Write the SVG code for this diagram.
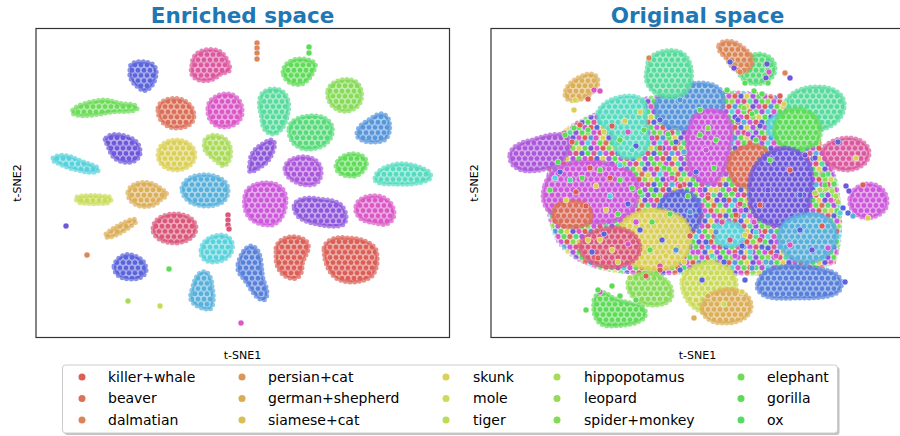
<svg xmlns="http://www.w3.org/2000/svg" width="900" height="436" viewBox="0 0 900 436">
<style>
text{font-family:"DejaVu Sans","Liberation Sans",sans-serif}
.ttl{font-size:21.5px;font-weight:bold;fill:#1f77b4;text-anchor:middle}
.ax{font-size:11px;fill:#000;text-anchor:middle}
.lg{font-size:14px;fill:#000}
.frame{fill:none;stroke:#333;stroke-width:1.2}
.pat rect{fill:currentColor;fill-opacity:.7}
.pat circle{fill:currentColor;stroke:#fff;stroke-width:.6;stroke-opacity:.75}
.blob{stroke-width:5;stroke-dasharray:0 4.6;stroke-linecap:round;stroke-linejoin:round;stroke-opacity:.7}
.dot{r:3px;stroke:#fff;stroke-width:.6;stroke-opacity:.8}
.lm{r:3.5px}
.mixb{fill:url(#mix);stroke:url(#mix)}
.br{fill:url(#pr);stroke:#db5f57}.cr{fill:#db5f57}
.bo{fill:url(#po);stroke:#db6e57}.co{fill:#db6e57}
.ba{fill:url(#pa);stroke:#db8657}.ca{fill:#db8657}
.bz{fill:url(#pz);stroke:#dbae57}.cz{fill:#dbae57}
.by{fill:url(#py);stroke:#dbd057}.cy{fill:#dbd057}
.bm{fill:url(#pm);stroke:#c9db57}.cm{fill:#c9db57}
.bl{fill:url(#pl);stroke:#a9db57}.cl{fill:#a9db57}
.be{fill:url(#pe);stroke:#86db57}.ce{fill:#86db57}
.bf{fill:url(#pf);stroke:#6cdb57}.cf{fill:#6cdb57}
.bg{fill:url(#pg);stroke:#5edb57}.cg{fill:#5edb57}
.bn{fill:url(#pn);stroke:#57db7a}.cn{fill:#57db7a}
.bt{fill:url(#pt);stroke:#57db9c}.ct{fill:#57db9c}
.bq{fill:url(#pq);stroke:#57dbc0}.cq{fill:#57dbc0}
.bc{fill:url(#pc);stroke:#57d2db}.cc{fill:#57d2db}
.bs{fill:url(#ps);stroke:#57b0db}.cs{fill:#57b0db}
.bb{fill:url(#pb);stroke:#5796db}.cb{fill:#5796db}
.bx{fill:url(#px);stroke:#5780db}.cx{fill:#5780db}
.bu{fill:url(#pu);stroke:#5a64db}.cu{fill:#5a64db}
.bv{fill:url(#pv);stroke:#6e57db}.cv{fill:#6e57db}
.bp{fill:url(#pp);stroke:#8e57db}.cp{fill:#8e57db}
.bw{fill:url(#pw);stroke:#ac57db}.cw{fill:#ac57db}
.bk{fill:url(#pk);stroke:#cd57db}.ck{fill:#cd57db}
.bh{fill:url(#ph);stroke:#db57c6}.ch{fill:#db57c6}
.bi{fill:url(#pi);stroke:#db579e}.ci{fill:#db579e}
.bj{fill:url(#pj);stroke:#db577a}.cj{fill:#db577a}
</style>
<defs>
<pattern id="pr" class="pat" color="#db5f57" width="6" height="10.4" patternUnits="userSpaceOnUse"><rect width="6" height="10.4"/><circle cx="3" cy="2.6" r="2.9"/><circle cy="7.8" r="2.9"/><circle cx="6" cy="7.8" r="2.9"/></pattern>
<pattern id="po" class="pat" color="#db6e57" width="6" height="10.4" patternUnits="userSpaceOnUse"><rect width="6" height="10.4"/><circle cx="3" cy="2.6" r="2.9"/><circle cy="7.8" r="2.9"/><circle cx="6" cy="7.8" r="2.9"/></pattern>
<pattern id="pa" class="pat" color="#db8657" width="6" height="10.4" patternUnits="userSpaceOnUse"><rect width="6" height="10.4"/><circle cx="3" cy="2.6" r="2.9"/><circle cy="7.8" r="2.9"/><circle cx="6" cy="7.8" r="2.9"/></pattern>
<pattern id="pz" class="pat" color="#dbae57" width="6" height="10.4" patternUnits="userSpaceOnUse"><rect width="6" height="10.4"/><circle cx="3" cy="2.6" r="2.9"/><circle cy="7.8" r="2.9"/><circle cx="6" cy="7.8" r="2.9"/></pattern>
<pattern id="py" class="pat" color="#dbd057" width="6" height="10.4" patternUnits="userSpaceOnUse"><rect width="6" height="10.4"/><circle cx="3" cy="2.6" r="2.9"/><circle cy="7.8" r="2.9"/><circle cx="6" cy="7.8" r="2.9"/></pattern>
<pattern id="pm" class="pat" color="#c9db57" width="6" height="10.4" patternUnits="userSpaceOnUse"><rect width="6" height="10.4"/><circle cx="3" cy="2.6" r="2.9"/><circle cy="7.8" r="2.9"/><circle cx="6" cy="7.8" r="2.9"/></pattern>
<pattern id="pl" class="pat" color="#a9db57" width="6" height="10.4" patternUnits="userSpaceOnUse"><rect width="6" height="10.4"/><circle cx="3" cy="2.6" r="2.9"/><circle cy="7.8" r="2.9"/><circle cx="6" cy="7.8" r="2.9"/></pattern>
<pattern id="pe" class="pat" color="#86db57" width="6" height="10.4" patternUnits="userSpaceOnUse"><rect width="6" height="10.4"/><circle cx="3" cy="2.6" r="2.9"/><circle cy="7.8" r="2.9"/><circle cx="6" cy="7.8" r="2.9"/></pattern>
<pattern id="pf" class="pat" color="#6cdb57" width="6" height="10.4" patternUnits="userSpaceOnUse"><rect width="6" height="10.4"/><circle cx="3" cy="2.6" r="2.9"/><circle cy="7.8" r="2.9"/><circle cx="6" cy="7.8" r="2.9"/></pattern>
<pattern id="pg" class="pat" color="#5edb57" width="6" height="10.4" patternUnits="userSpaceOnUse"><rect width="6" height="10.4"/><circle cx="3" cy="2.6" r="2.9"/><circle cy="7.8" r="2.9"/><circle cx="6" cy="7.8" r="2.9"/></pattern>
<pattern id="pn" class="pat" color="#57db7a" width="6" height="10.4" patternUnits="userSpaceOnUse"><rect width="6" height="10.4"/><circle cx="3" cy="2.6" r="2.9"/><circle cy="7.8" r="2.9"/><circle cx="6" cy="7.8" r="2.9"/></pattern>
<pattern id="pt" class="pat" color="#57db9c" width="6" height="10.4" patternUnits="userSpaceOnUse"><rect width="6" height="10.4"/><circle cx="3" cy="2.6" r="2.9"/><circle cy="7.8" r="2.9"/><circle cx="6" cy="7.8" r="2.9"/></pattern>
<pattern id="pq" class="pat" color="#57dbc0" width="6" height="10.4" patternUnits="userSpaceOnUse"><rect width="6" height="10.4"/><circle cx="3" cy="2.6" r="2.9"/><circle cy="7.8" r="2.9"/><circle cx="6" cy="7.8" r="2.9"/></pattern>
<pattern id="pc" class="pat" color="#57d2db" width="6" height="10.4" patternUnits="userSpaceOnUse"><rect width="6" height="10.4"/><circle cx="3" cy="2.6" r="2.9"/><circle cy="7.8" r="2.9"/><circle cx="6" cy="7.8" r="2.9"/></pattern>
<pattern id="ps" class="pat" color="#57b0db" width="6" height="10.4" patternUnits="userSpaceOnUse"><rect width="6" height="10.4"/><circle cx="3" cy="2.6" r="2.9"/><circle cy="7.8" r="2.9"/><circle cx="6" cy="7.8" r="2.9"/></pattern>
<pattern id="pb" class="pat" color="#5796db" width="6" height="10.4" patternUnits="userSpaceOnUse"><rect width="6" height="10.4"/><circle cx="3" cy="2.6" r="2.9"/><circle cy="7.8" r="2.9"/><circle cx="6" cy="7.8" r="2.9"/></pattern>
<pattern id="px" class="pat" color="#5780db" width="6" height="10.4" patternUnits="userSpaceOnUse"><rect width="6" height="10.4"/><circle cx="3" cy="2.6" r="2.9"/><circle cy="7.8" r="2.9"/><circle cx="6" cy="7.8" r="2.9"/></pattern>
<pattern id="pu" class="pat" color="#5a64db" width="6" height="10.4" patternUnits="userSpaceOnUse"><rect width="6" height="10.4"/><circle cx="3" cy="2.6" r="2.9"/><circle cy="7.8" r="2.9"/><circle cx="6" cy="7.8" r="2.9"/></pattern>
<pattern id="pv" class="pat" color="#6e57db" width="6" height="10.4" patternUnits="userSpaceOnUse"><rect width="6" height="10.4"/><circle cx="3" cy="2.6" r="2.9"/><circle cy="7.8" r="2.9"/><circle cx="6" cy="7.8" r="2.9"/></pattern>
<pattern id="pp" class="pat" color="#8e57db" width="6" height="10.4" patternUnits="userSpaceOnUse"><rect width="6" height="10.4"/><circle cx="3" cy="2.6" r="2.9"/><circle cy="7.8" r="2.9"/><circle cx="6" cy="7.8" r="2.9"/></pattern>
<pattern id="pw" class="pat" color="#ac57db" width="6" height="10.4" patternUnits="userSpaceOnUse"><rect width="6" height="10.4"/><circle cx="3" cy="2.6" r="2.9"/><circle cy="7.8" r="2.9"/><circle cx="6" cy="7.8" r="2.9"/></pattern>
<pattern id="pk" class="pat" color="#cd57db" width="6" height="10.4" patternUnits="userSpaceOnUse"><rect width="6" height="10.4"/><circle cx="3" cy="2.6" r="2.9"/><circle cy="7.8" r="2.9"/><circle cx="6" cy="7.8" r="2.9"/></pattern>
<pattern id="ph" class="pat" color="#db57c6" width="6" height="10.4" patternUnits="userSpaceOnUse"><rect width="6" height="10.4"/><circle cx="3" cy="2.6" r="2.9"/><circle cy="7.8" r="2.9"/><circle cx="6" cy="7.8" r="2.9"/></pattern>
<pattern id="pi" class="pat" color="#db579e" width="6" height="10.4" patternUnits="userSpaceOnUse"><rect width="6" height="10.4"/><circle cx="3" cy="2.6" r="2.9"/><circle cy="7.8" r="2.9"/><circle cx="6" cy="7.8" r="2.9"/></pattern>
<pattern id="pj" class="pat" color="#db577a" width="6" height="10.4" patternUnits="userSpaceOnUse"><rect width="6" height="10.4"/><circle cx="3" cy="2.6" r="2.9"/><circle cy="7.8" r="2.9"/><circle cx="6" cy="7.8" r="2.9"/></pattern>
<pattern id="mix" width="36" height="31.2" patternUnits="userSpaceOnUse">
<circle class="dot cg" cx="3" cy="2.6"/><circle class="dot ck" cx="9" cy="2.6"/><circle class="dot cr" cx="15" cy="2.6"/><circle class="dot cu" cx="21" cy="2.6"/><circle class="dot cy" cx="27" cy="2.6"/><circle class="dot cw" cx="33" cy="2.6"/>
<circle class="dot cp" cx="0" cy="7.8"/><circle class="dot cg" cx="6" cy="7.8"/><circle class="dot ce" cx="12" cy="7.8"/><circle class="dot ck" cx="18" cy="7.8"/><circle class="dot cj" cx="24" cy="7.8"/><circle class="dot ct" cx="30" cy="7.8"/><circle class="dot cp" cx="36" cy="7.8"/>
<circle class="dot ch" cx="3" cy="13"/><circle class="dot cr" cx="9" cy="13"/><circle class="dot cb" cx="15" cy="13"/><circle class="dot cg" cx="21" cy="13"/><circle class="dot cy" cx="27" cy="13"/><circle class="dot cv" cx="33" cy="13"/>
<circle class="dot cn" cx="0" cy="18.2"/><circle class="dot cw" cx="6" cy="18.2"/><circle class="dot cc" cx="12" cy="18.2"/><circle class="dot ch" cx="18" cy="18.2"/><circle class="dot cg" cx="24" cy="18.2"/><circle class="dot co" cx="30" cy="18.2"/><circle class="dot cn" cx="36" cy="18.2"/>
<circle class="dot cy" cx="3" cy="23.4"/><circle class="dot cg" cx="9" cy="23.4"/><circle class="dot cv" cx="15" cy="23.4"/><circle class="dot ck" cx="21" cy="23.4"/><circle class="dot cr" cx="27" cy="23.4"/><circle class="dot ce" cx="33" cy="23.4"/>
<circle class="dot cj" cx="0" cy="28.6"/><circle class="dot cu" cx="6" cy="28.6"/><circle class="dot cg" cx="12" cy="28.6"/><circle class="dot ci" cx="18" cy="28.6"/><circle class="dot cs" cx="24" cy="28.6"/><circle class="dot ck" cx="30" cy="28.6"/><circle class="dot cj" cx="36" cy="28.6"/>
</pattern>
</defs>
<rect width="900" height="436" fill="#fff"/>

<g id="titles">
<text class="ttl" x="242.5" y="23">Enriched space</text>
<text class="ttl" x="697.5" y="23">Original space</text>
</g>

<g id="enriched">
<rect class="frame" x="36" y="28.5" width="413.5" height="309"/>
<text class="ax" x="242.5" y="359">t-SNE1</text>
<text class="ax" transform="translate(21,183) rotate(-90)">t-SNE2</text>
<g id="enriched-clusters">
<path class="blob bu" d="M130,70 C128,62 140,60 150,63 C158,66 157,75 154,82 C151,88 146,92 142,90 C136,86 128,80 130,70Z"/>
<path class="blob bi" d="M192,65 C192,52 204,48 216,50 C224,52 228,60 230,68 C231,73 222,72 218,76 C212,82 200,82 195,78 C190,74 191,70 192,65Z"/>
<path class="blob bg" d="M283,72 C284,62 294,58 304,59 C312,60 317,63 315,68 C312,74 310,80 302,84 C294,86 284,82 283,72Z"/>
<path class="blob be" d="M328,90 C330,82 342,78 352,80 C360,82 363,92 361,100 C359,108 350,112 342,111 C332,109 326,100 328,90Z"/>
<path class="blob bf" d="M73,110 C78,104 92,101 104,100 C112,100 118,104 126,104 C134,104 138,106 137,109 C134,112 122,111 112,112 C100,114 86,117 76,115 C72,114 71,112 73,110Z"/>
<path class="blob bo" d="M158,108 C160,100 170,97 180,99 C188,101 194,108 194,116 C194,124 186,128 176,128 C166,128 157,120 158,108Z"/>
<path class="blob bh" d="M208,108 C208,98 220,93 230,94 C238,96 243,104 242,114 C241,122 232,128 222,127 C212,126 207,118 208,108Z"/>
<path class="blob bt" d="M260,98 C262,90 272,87 280,90 C288,94 290,104 288,112 C287,122 282,132 274,134 C266,134 262,128 262,120 C261,112 258,106 260,98Z"/>
<path class="blob bn" d="M289,128 C290,119 304,115 316,116 C328,117 334,124 332,134 C330,144 318,150 306,149 C294,148 288,138 289,128Z"/>
<path class="blob bb" d="M357,133 C358,125 366,122 372,118 C378,113 384,112 388,118 C391,126 390,134 386,139 C380,143 368,143 362,140 C358,138 356,136 357,133Z"/>
<path class="blob bv" d="M106,138 C110,133 120,134 128,137 C136,139 141,146 140,154 C138,162 128,164 120,161 C112,158 110,152 108,146 C106,142 104,140 106,138Z"/>
<path class="blob by" d="M158,155 C158,145 166,140 176,140 C186,140 195,146 195,155 C195,164 186,170 176,170 C166,170 158,164 158,155Z"/>
<path class="blob bl" d="M205,140 C208,134 218,134 224,138 C230,142 232,150 230,158 C228,164 224,168 220,164 C212,158 204,152 204,146Z"/>
<path class="blob bp" d="M250,162 C250,152 258,146 266,142 C272,138 276,140 274,148 C272,156 268,162 262,166 C256,170 250,174 249,170Z"/>
<path class="blob bw" d="M285,168 C286,160 296,156 306,157 C314,158 320,162 321,170 C322,178 318,186 308,185 C298,185 284,178 285,168Z"/>
<path class="blob bg" d="M336,166 C337,158 346,153 356,154 C364,155 368,160 366,166 C364,172 356,178 350,176 C342,176 336,172 336,166Z"/>
<path class="blob bq" d="M375,178 C376,170 388,165 398,164 C408,163 418,166 426,170 C432,173 432,178 428,180 C420,184 404,185 394,184 C384,184 374,184 375,178Z"/>
<path class="blob bc" d="M53,158 C58,154 68,155 74,158 C82,162 92,164 98,168 C100,172 94,173 86,172 C78,170 66,168 60,164 C54,162 52,160 53,158Z"/>
<path class="blob bz" d="M128,192 C130,184 140,181 150,183 C158,185 162,190 166,192 C168,196 164,198 160,200 C158,204 150,208 140,206 C132,204 127,198 128,192Z"/>
<path class="blob bm" d="M77,197 C82,195 100,195 110,197 C112,199 111,202 108,203 C98,204 82,204 78,202 C76,201 76,198 77,197Z"/>
<path class="blob bs" d="M182,188 C184,178 196,174 208,175 C220,176 229,182 228,192 C227,202 218,206 206,206 C194,206 182,200 182,188Z"/>
<path class="blob bk" d="M245,196 C246,186 258,182 270,183 C280,184 286,190 286,200 C286,210 282,222 272,225 C262,226 250,222 246,212 C244,206 244,200 245,196Z"/>
<path class="blob bp" d="M294,206 C296,198 308,197 318,199 C326,200 334,200 340,204 C346,210 348,218 344,224 C338,228 326,226 316,224 C306,222 294,218 294,206Z"/>
<path class="blob bh" d="M356,206 C358,198 368,195 378,196 C388,198 393,204 394,212 C395,220 388,226 380,224 C372,222 364,222 360,218 C356,214 355,210 356,206Z"/>
<path class="blob bz" d="M106,234 C110,230 120,224 130,220 C136,218 138,220 134,224 C126,230 116,236 110,237 C106,238 104,236 106,234Z"/>
<path class="blob bj" d="M153,228 C154,218 166,213 178,214 C188,215 196,220 196,228 C196,236 188,242 176,243 C164,243 152,238 153,228Z"/>
<path class="blob bc" d="M201,250 C202,240 212,235 222,235 C230,236 234,242 232,250 C230,258 222,262 212,262 C204,262 200,256 201,250Z"/>
<path class="blob bu" d="M114,266 C116,258 124,253 132,255 C140,257 146,262 146,270 C146,276 138,280 130,279 C120,279 114,274 114,266Z"/>
<path class="blob bx" d="M238,264 C240,256 244,248 250,246 C256,246 260,252 261,262 C262,270 262,276 264,282 C268,290 268,298 264,300 C258,300 254,294 250,288 C246,280 240,276 238,270Z"/>
<path class="blob br" d="M276,248 C278,240 286,236 296,237 C304,238 310,242 308,250 C306,256 302,260 302,268 C302,276 296,280 290,278 C282,276 276,268 276,258Z"/>
<path class="blob br" d="M324,248 C326,240 336,236 348,238 C360,238 372,242 376,250 C378,258 378,268 372,276 C364,282 350,284 340,280 C330,276 324,264 324,248Z"/>
<path class="blob bs" d="M192,290 C194,282 196,274 202,272 C208,270 212,278 212,286 C214,296 214,306 210,309 C204,310 194,306 191,300 C190,296 191,292 192,290Z"/>
</g>
<g id="enriched-points">
<circle class="dot ca" cx="257" cy="43"/><circle class="dot ca" cx="257" cy="48"/><circle class="dot ca" cx="257" cy="53"/><circle class="dot ca" cx="257" cy="59"/>
<circle class="dot cg" cx="309" cy="47"/><circle class="dot cg" cx="309" cy="53"/>
<circle class="dot cv" cx="66" cy="226"/>
<circle class="dot cj" cx="228" cy="215"/><circle class="dot cj" cx="228" cy="220"/><circle class="dot cj" cx="228" cy="225"/><circle class="dot cj" cx="229" cy="229"/>
<circle class="dot ca" cx="87" cy="255"/>
<circle class="dot cg" cx="169" cy="269"/>
<circle class="dot cl" cx="128" cy="301"/><circle class="dot cm" cx="160" cy="306"/>
<circle class="dot ch" cx="241" cy="323"/>
</g>
</g>

<g id="original">
<rect class="frame" x="491" y="28.5" width="414" height="309"/>
<text class="ax" x="697.5" y="359">t-SNE1</text>
<text class="ax" transform="translate(478,183) rotate(-90)">t-SNE2</text>
<g id="original-clusters">
<path class="blob mixb" d="M556,140 C570,122 600,112 640,100 C680,92 730,90 770,96 C800,104 820,140 832,170 C842,200 842,240 834,262 C810,272 760,276 720,272 C690,270 660,276 630,272 C600,270 572,262 558,240 C546,218 544,180 556,140Z"/>
<path class="blob bb" d="M656,104 C660,92 672,86 686,84 C700,82 716,82 722,92 C726,102 722,114 714,122 C704,130 688,130 674,128 C662,126 654,116 656,104Z"/>
<path class="blob bt" d="M648,62 C652,52 668,48 680,52 C690,56 693,70 691,82 C689,92 680,98 668,97 C656,96 646,88 646,76Z"/>
<path class="blob bq" d="M598,112 C602,102 616,96 630,96 C642,96 648,104 646,114 C644,122 650,132 648,144 C646,154 636,160 626,158 C616,156 614,144 612,134 C606,128 596,122 598,112Z"/>
<path class="blob bz" d="M565,95 C564,88 572,80 582,76 C590,72 597,74 598,80 C599,88 592,94 584,98 C576,102 566,102 565,95Z"/>
<path class="blob bw" d="M510,154 C512,146 522,142 532,140 C544,136 558,132 566,136 C572,140 570,150 564,158 C558,166 546,170 532,171 C520,172 508,166 510,154Z"/>
<path class="blob bn" d="M738,68 C740,60 750,54 760,54 C770,55 776,62 775,70 C774,78 766,84 756,84 C746,84 738,76 738,68Z"/>
<path class="blob ba" d="M719,45 C722,40 732,40 738,44 C744,48 750,52 752,58 C754,66 748,72 742,72 C734,72 730,64 726,58 C722,54 717,50 719,45Z"/>
<path class="blob bc" d="M768,124 C770,116 780,112 788,116 C794,120 794,130 790,136 C784,140 772,138 768,132Z"/>
<path class="blob bt" d="M787,100 C792,90 808,86 822,87 C836,88 846,96 844,108 C842,120 832,128 818,130 C804,132 788,124 786,112Z"/>
<path class="blob bg" d="M775,125 C778,112 792,106 804,110 C816,114 822,124 820,136 C818,146 806,150 794,150 C782,150 772,138 775,125Z"/>
<path class="blob bi" d="M823,150 C826,142 838,138 850,138 C862,139 870,146 869,154 C868,164 858,170 846,170 C834,170 822,162 823,150Z"/>
<path class="blob bk" d="M692,120 C698,110 712,108 722,112 C732,118 734,132 730,146 C728,160 724,174 716,182 C706,186 694,180 690,168 C686,154 686,132 692,120Z"/>
<path class="blob bo" d="M730,158 C734,148 748,144 760,146 C770,150 774,162 770,174 C766,184 754,188 742,186 C732,184 726,170 730,158Z"/>
<path class="blob bv" d="M750,180 C752,164 766,150 784,148 C800,148 812,160 812,178 C812,196 808,214 798,222 C786,228 766,226 756,216 C748,206 748,192 750,180Z"/>
<path class="blob bk" d="M545,185 C548,172 562,162 580,162 C598,160 616,164 630,172 C640,180 640,196 634,208 C626,220 608,224 590,222 C572,222 556,220 548,210 C542,202 542,194 545,185Z"/>
<path class="blob bo" d="M554,210 C556,202 568,200 580,202 C590,204 594,214 590,222 C584,228 570,228 562,226 C554,222 552,216 554,210Z"/>
<path class="blob bu" d="M660,205 C664,194 676,190 688,192 C698,196 702,208 700,220 C698,230 688,234 676,232 C664,230 656,218 660,205Z"/>
<path class="blob by" d="M620,228 C624,216 640,210 656,210 C672,210 688,218 690,232 C692,246 686,260 674,266 C660,272 642,270 630,262 C620,254 616,240 620,228Z"/>
<path class="blob bj" d="M580,245 C584,234 598,228 614,228 C628,228 640,236 640,248 C640,258 630,266 614,267 C598,268 578,258 580,245Z"/>
<path class="blob be" d="M628,282 C632,274 644,272 654,274 C664,276 672,284 672,294 C672,302 662,306 650,305 C638,304 626,294 628,282Z"/>
<path class="blob bg" d="M594,300 C596,292 604,290 610,296 C616,300 626,302 636,304 C644,306 648,312 644,318 C638,324 624,326 610,326 C598,326 592,318 594,300Z"/>
<path class="blob bs" d="M779,232 C782,220 796,214 812,214 C826,214 838,224 836,238 C834,252 822,262 806,262 C790,262 776,248 779,232Z"/>
<path class="blob bk" d="M850,198 C852,188 862,183 872,184 C882,186 888,194 887,204 C886,212 876,218 866,218 C856,217 848,208 850,198Z"/>
<path class="blob bx" d="M759,280 C762,270 776,266 792,266 C806,266 820,268 832,272 C842,276 844,286 838,292 C830,298 814,298 800,298 C786,298 770,300 762,294 C756,290 756,284 759,280Z"/>
<path class="blob bm" d="M682,280 C686,268 700,262 714,262 C728,264 738,274 736,288 C734,302 724,312 710,313 C696,314 680,298 682,280Z"/>
<path class="blob bz" d="M702,305 C706,294 720,288 734,290 C748,292 754,302 750,312 C746,320 734,324 720,323 C708,322 700,314 702,305Z"/>
<path class="blob bc" d="M716,228 C718,222 728,220 736,224 C744,228 746,238 740,244 C732,248 720,246 716,240Z"/>
</g>
<g id="original-points">
<circle class="dot ca" cx="649" cy="58"/><circle class="dot cu" cx="730" cy="62"/><circle class="dot cv" cx="734" cy="68"/><circle class="dot cv" cx="767" cy="64"/><circle class="dot cv" cx="766" cy="78"/><circle class="dot ca" cx="740" cy="72"/><circle class="dot ca" cx="785" cy="73"/><circle class="dot cv" cx="790" cy="78"/><circle class="dot cg" cx="745" cy="83"/><circle class="dot cg" cx="768" cy="83"/><circle class="dot cg" cx="727" cy="90"/><circle class="dot cg" cx="754" cy="91"/><circle class="dot cg" cx="762" cy="94"/><circle class="dot ch" cx="769" cy="72"/><circle class="dot cr" cx="780" cy="96"/><circle class="dot cy" cx="784" cy="104"/>
<circle class="dot cy" cx="575" cy="100"/><circle class="dot cy" cx="574" cy="110"/><circle class="dot ch" cx="594" cy="90"/><circle class="dot ch" cx="600" cy="91"/><circle class="dot cr" cx="588" cy="99"/><circle class="dot cg" cx="574" cy="128"/><circle class="dot cy" cx="625" cy="121"/>
<circle class="dot cg" cx="565" cy="135"/><circle class="dot cr" cx="572" cy="142"/><circle class="dot cr" cx="580" cy="125"/><circle class="dot cg" cx="588" cy="130"/><circle class="dot ch" cx="596" cy="138"/><circle class="dot cy" cx="604" cy="132"/><circle class="dot cr" cx="612" cy="126"/><circle class="dot cg" cx="620" cy="140"/><circle class="dot ch" cx="628" cy="132"/><circle class="dot cu" cx="636" cy="146"/><circle class="dot cg" cx="644" cy="130"/><circle class="dot ck" cx="652" cy="138"/><circle class="dot cr" cx="660" cy="148"/><circle class="dot cg" cx="668" cy="134"/><circle class="dot cu" cx="676" cy="142"/><circle class="dot cs" cx="684" cy="152"/><circle class="dot cg" cx="700" cy="135"/><circle class="dot ce" cx="708" cy="128"/><circle class="dot cg" cx="716" cy="140"/><circle class="dot cu" cx="738" cy="120"/><circle class="dot ce" cx="744" cy="108"/><circle class="dot cg" cx="752" cy="114"/><circle class="dot cv" cx="760" cy="126"/><circle class="dot ck" cx="748" cy="134"/><circle class="dot cg" cx="756" cy="140"/><circle class="dot cr" cx="764" cy="138"/>
<circle class="dot cg" cx="600" cy="170"/><circle class="dot cr" cx="610" cy="178"/><circle class="dot cc" cx="620" cy="165"/><circle class="dot cg" cx="632" cy="188"/><circle class="dot cy" cx="648" cy="175"/><circle class="dot cu" cx="656" cy="190"/><circle class="dot cg" cx="664" cy="168"/><circle class="dot ch" cx="672" cy="178"/><circle class="dot cr" cx="680" cy="186"/><circle class="dot cg" cx="688" cy="196"/><circle class="dot ck" cx="700" cy="190"/><circle class="dot cr" cx="708" cy="198"/><circle class="dot cy" cx="716" cy="190"/><circle class="dot cu" cx="724" cy="200"/><circle class="dot cg" cx="732" cy="194"/><circle class="dot cj" cx="740" cy="204"/><circle class="dot cr" cx="736" cy="215"/><circle class="dot cv" cx="746" cy="210"/><circle class="dot cc" cx="756" cy="232"/><circle class="dot ci" cx="722" cy="222"/><circle class="dot cj" cx="730" cy="240"/><circle class="dot cu" cx="742" cy="246"/><circle class="dot cc" cx="750" cy="252"/><circle class="dot cb" cx="716" cy="232"/><circle class="dot cu" cx="706" cy="242"/><circle class="dot ck" cx="698" cy="252"/><circle class="dot cr" cx="690" cy="236"/><circle class="dot cq" cx="712" cy="256"/><circle class="dot cu" cx="724" cy="262"/><circle class="dot cj" cx="760" cy="240"/><circle class="dot cu" cx="768" cy="248"/><circle class="dot ch" cx="776" cy="256"/><circle class="dot cs" cx="766" cy="262"/><circle class="dot cy" cx="745" cy="235"/><circle class="dot ck" cx="735" cy="256"/><circle class="dot ch" cx="754" cy="222"/>
<circle class="dot cy" cx="600" cy="240"/><circle class="dot cu" cx="592" cy="252"/><circle class="dot cy" cx="612" cy="250"/><circle class="dot ch" cx="628" cy="244"/><circle class="dot cu" cx="604" cy="234"/><circle class="dot cu" cx="640" cy="230"/><circle class="dot cg" cx="652" cy="222"/><circle class="dot cu" cx="662" cy="240"/><circle class="dot cb" cx="676" cy="250"/><circle class="dot cy" cx="684" cy="262"/><circle class="dot cr" cx="646" cy="276"/><circle class="dot ci" cx="660" cy="266"/><circle class="dot cy" cx="618" cy="262"/><circle class="dot cu" cx="680" cy="270"/>
<circle class="dot cu" cx="560" cy="172"/><circle class="dot ct" cx="570" cy="180"/><circle class="dot cg" cx="582" cy="178"/><circle class="dot cy" cx="596" cy="186"/><circle class="dot cc" cx="610" cy="196"/><circle class="dot cg" cx="620" cy="180"/><circle class="dot cg" cx="550" cy="190"/><circle class="dot cy" cx="566" cy="200"/><circle class="dot cr" cx="576" cy="192"/><circle class="dot cu" cx="628" cy="204"/><circle class="dot cg" cx="640" cy="192"/><circle class="dot cy" cx="606" cy="210"/>
<circle class="dot cg" cx="558" cy="162"/><circle class="dot cr" cx="590" cy="168"/><circle class="dot cg" cx="618" cy="214"/><circle class="dot cc" cx="555" cy="178"/><circle class="dot cr" cx="586" cy="206"/><circle class="dot cg" cx="770" cy="160"/><circle class="dot cr" cx="790" cy="170"/><circle class="dot cu" cx="800" cy="195"/><circle class="dot cv" cx="768" cy="190"/><circle class="dot cr" cx="760" cy="205"/><circle class="dot cg" cx="650" cy="250"/><circle class="dot ck" cx="636" cy="222"/><circle class="dot cg" cx="670" cy="214"/><circle class="dot cb" cx="690" cy="212"/><circle class="dot cy" cx="666" cy="256"/><circle class="dot cr" cx="598" cy="258"/><circle class="dot cy" cx="588" cy="240"/><circle class="dot ck" cx="706" cy="150"/><circle class="dot cg" cx="714" cy="168"/><circle class="dot cu" cx="696" cy="172"/><circle class="dot cb" cx="680" cy="100"/><circle class="dot cg" cx="700" cy="110"/><circle class="dot cu" cx="660" cy="120"/><circle class="dot cq" cx="632" cy="150"/><circle class="dot cy" cx="640" cy="112"/>
<circle class="dot cl" cx="815" cy="193"/><circle class="dot cl" cx="820" cy="190"/><circle class="dot cl" cx="826" cy="189"/><circle class="dot cl" cx="832" cy="191"/><circle class="dot cl" cx="836" cy="196"/><circle class="dot cl" cx="838" cy="202"/><circle class="dot cu" cx="843" cy="208"/><circle class="dot cu" cx="848" cy="213"/><circle class="dot cs" cx="853" cy="216"/><circle class="dot cc" cx="840" cy="213"/><circle class="dot cg" cx="825" cy="185"/><circle class="dot cg" cx="834" cy="184"/><circle class="dot cv" cx="846" cy="186"/><circle class="dot cv" cx="849" cy="191"/><circle class="dot cr" cx="863" cy="185"/><circle class="dot cy" cx="868" cy="218"/><circle class="dot cg" cx="823" cy="175"/><circle class="dot cv" cx="805" cy="155"/><circle class="dot cv" cx="815" cy="158"/><circle class="dot cu" cx="838" cy="142"/><circle class="dot cy" cx="856" cy="158"/><circle class="dot cr" cx="822" cy="226"/><circle class="dot ck" cx="828" cy="248"/><circle class="dot cu" cx="800" cy="230"/><circle class="dot ch" cx="790" cy="245"/><circle class="dot cv" cx="812" cy="250"/><circle class="dot cu" cx="845" cy="282"/>
<circle class="dot cu" cx="702" cy="280"/><circle class="dot cy" cx="696" cy="300"/><circle class="dot cz" cx="708" cy="296"/><circle class="dot cm" cx="724" cy="304"/><circle class="dot cz" cx="694" cy="318"/><circle class="dot cu" cx="745" cy="280"/><circle class="dot cb" cx="752" cy="268"/><circle class="dot cy" cx="742" cy="292"/>
<circle class="dot cg" cx="612" cy="286"/><circle class="dot ch" cx="600" cy="292"/><circle class="dot cg" cx="586" cy="310"/><circle class="dot cg" cx="598" cy="290"/><circle class="dot cg" cx="636" cy="300"/><circle class="dot cg" cx="620" cy="296"/><circle class="dot cr" cx="660" cy="270"/><circle class="dot cl" cx="630" cy="278"/>
</g>
</g>

<g id="legend">
<rect x="64.5" y="367" width="775" height="68" rx="3" fill="#999" fill-opacity=".6"/>
<rect x="62.5" y="365" width="775" height="68" rx="3" fill="#fff" stroke="#ccc"/>
<g id="lg-killer-whale"><circle class="lm" cx="82" cy="377" fill="#db5f57"/><text class="lg" x="108" y="381.5">killer+whale</text></g>
<g id="lg-beaver"><circle class="lm" cx="82" cy="398.5" fill="#db7257"/><text class="lg" x="108" y="403">beaver</text></g>
<g id="lg-dalmatian"><circle class="lm" cx="82" cy="420" fill="#db8457"/><text class="lg" x="108" y="424.5">dalmatian</text></g>
<g id="lg-persian-cat"><circle class="lm" cx="242" cy="377" fill="#db9757"/><text class="lg" x="268" y="381.5">persian+cat</text></g>
<g id="lg-german-shepherd"><circle class="lm" cx="242" cy="398.5" fill="#dbab57"/><text class="lg" x="268" y="403">german+shepherd</text></g>
<g id="lg-siamese-cat"><circle class="lm" cx="242" cy="420" fill="#dbbe57"/><text class="lg" x="268" y="424.5">siamese+cat</text></g>
<g id="lg-skunk"><circle class="lm" cx="446" cy="377" fill="#dbd157"/><text class="lg" x="473" y="381.5">skunk</text></g>
<g id="lg-mole"><circle class="lm" cx="446" cy="398.5" fill="#cfdb57"/><text class="lg" x="473" y="403">mole</text></g>
<g id="lg-tiger"><circle class="lm" cx="446" cy="420" fill="#bcdb57"/><text class="lg" x="473" y="424.5">tiger</text></g>
<g id="lg-hippopotamus"><circle class="lm" cx="557" cy="377" fill="#a9db57"/><text class="lg" x="584" y="381.5">hippopotamus</text></g>
<g id="lg-leopard"><circle class="lm" cx="557" cy="398.5" fill="#96db57"/><text class="lg" x="584" y="403">leopard</text></g>
<g id="lg-spider-monkey"><circle class="lm" cx="557" cy="420" fill="#82db57"/><text class="lg" x="584" y="424.5">spider+monkey</text></g>
<g id="lg-elephant"><circle class="lm" cx="741" cy="377" fill="#6fdb57"/><text class="lg" x="767" y="381.5">elephant</text></g>
<g id="lg-gorilla"><circle class="lm" cx="741" cy="398.5" fill="#5cdb57"/><text class="lg" x="767" y="403">gorilla</text></g>
<g id="lg-ox"><circle class="lm" cx="741" cy="420" fill="#57db65"/><text class="lg" x="767" y="424.5">ox</text></g>
</g>
</svg>
